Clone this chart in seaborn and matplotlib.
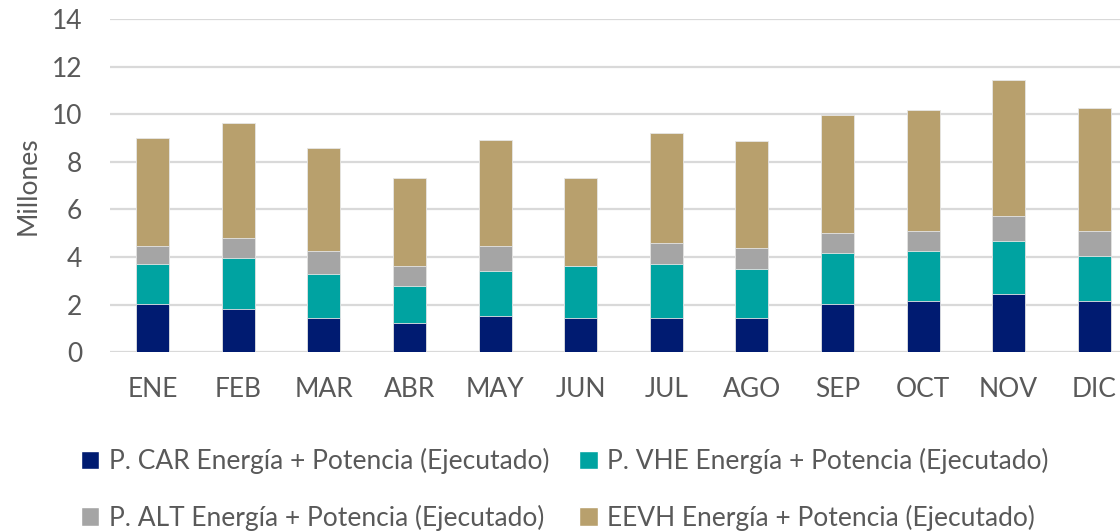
'''Stacked monthly bars: energia + potencia ejecutado'''

import matplotlib
matplotlib.use('Agg')
import matplotlib.pyplot as plt
from matplotlib.patches import Patch
import seaborn as sns
import pandas as pd
import numpy as np

# data (millones)
meses = ['ENE', 'FEB', 'MAR', 'ABR', 'MAY', 'JUN', 'JUL', 'AGO', 'SEP', 'OCT', 'NOV', 'DIC']
car = [2.04, 1.83, 1.42, 1.21, 1.51, 1.42, 1.42, 1.42, 2.04, 2.14, 2.46, 2.14]
vhe = [1.68, 2.11, 1.87, 1.57, 1.91, 2.21, 2.30, 2.09, 2.13, 2.11, 2.21, 1.90]
alt = [0.75, 0.87, 0.97, 0.86, 1.05, 0.00, 0.86, 0.87, 0.84, 0.85, 1.05, 1.06]
eevh = [4.54, 4.83, 4.32, 3.68, 4.43, 3.69, 4.64, 4.51, 4.95, 5.07, 5.71, 5.16]

series = ['P. CAR Energía + Potencia (Ejecutado)',
          'P. VHE Energía + Potencia (Ejecutado)',
          'P. ALT Energía + Potencia (Ejecutado)',
          'EEVH Energía + Potencia (Ejecutado)']
colores = ['#001B71', '#00A3A1', '#A5A5A5', '#B8A06D']

sns.set_style('white')
plt.rcParams['font.family'] = ['Lato', 'DejaVu Sans']
txt = '#595959'

df = pd.DataFrame({'mes': meses, 'car': car, 'vhe': vhe, 'alt': alt, 'eevh': eevh})
cum = df[['car', 'vhe', 'alt', 'eevh']].cumsum(axis=1)

fig = plt.figure(figsize=(11.2, 5.32), dpi=100)
ax = fig.add_axes([0.0982, 0.338, 0.917, 0.626])

# draw tallest first so each lower segment covers the one above
for col, color in zip(['eevh', 'alt', 'vhe', 'car'], colores[::-1]):
    sns.barplot(x=df['mes'], y=cum[col], color=color, saturation=1, width=0.385,
                edgecolor='#E6E6E6', linewidth=0.6, ax=ax, zorder=3)

ax.set_ylim(0, 14)
ax.set_yticks(np.arange(0, 15, 2))
ax.grid(axis='y', color='#D9D9D9', linewidth=1.6, zorder=0)
ax.set_axisbelow(True)
sns.despine(ax=ax, left=True, bottom=True)
ax.tick_params(axis='both', length=0, labelsize=19, labelcolor=txt)
ax.tick_params(axis='x', pad=18)
ax.tick_params(axis='y', pad=20)
ax.set_xlabel('')
ax.set_ylabel('Millones', fontsize=19, color=txt, labelpad=8)

handles = [Patch(facecolor=c) for c in colores]
order = [0, 2, 1, 3]
fig.legend([handles[i] for i in order], [series[i] for i in order],
           ncol=2, loc='center left', bbox_to_anchor=(0.051, 0.08),
           frameon=False, fontsize=19, labelcolor=txt,
           handlelength=0.7, handleheight=0.7, handletextpad=0.35,
           columnspacing=1.15, labelspacing=1.15)

plt.savefig('out.png', dpi=100)
